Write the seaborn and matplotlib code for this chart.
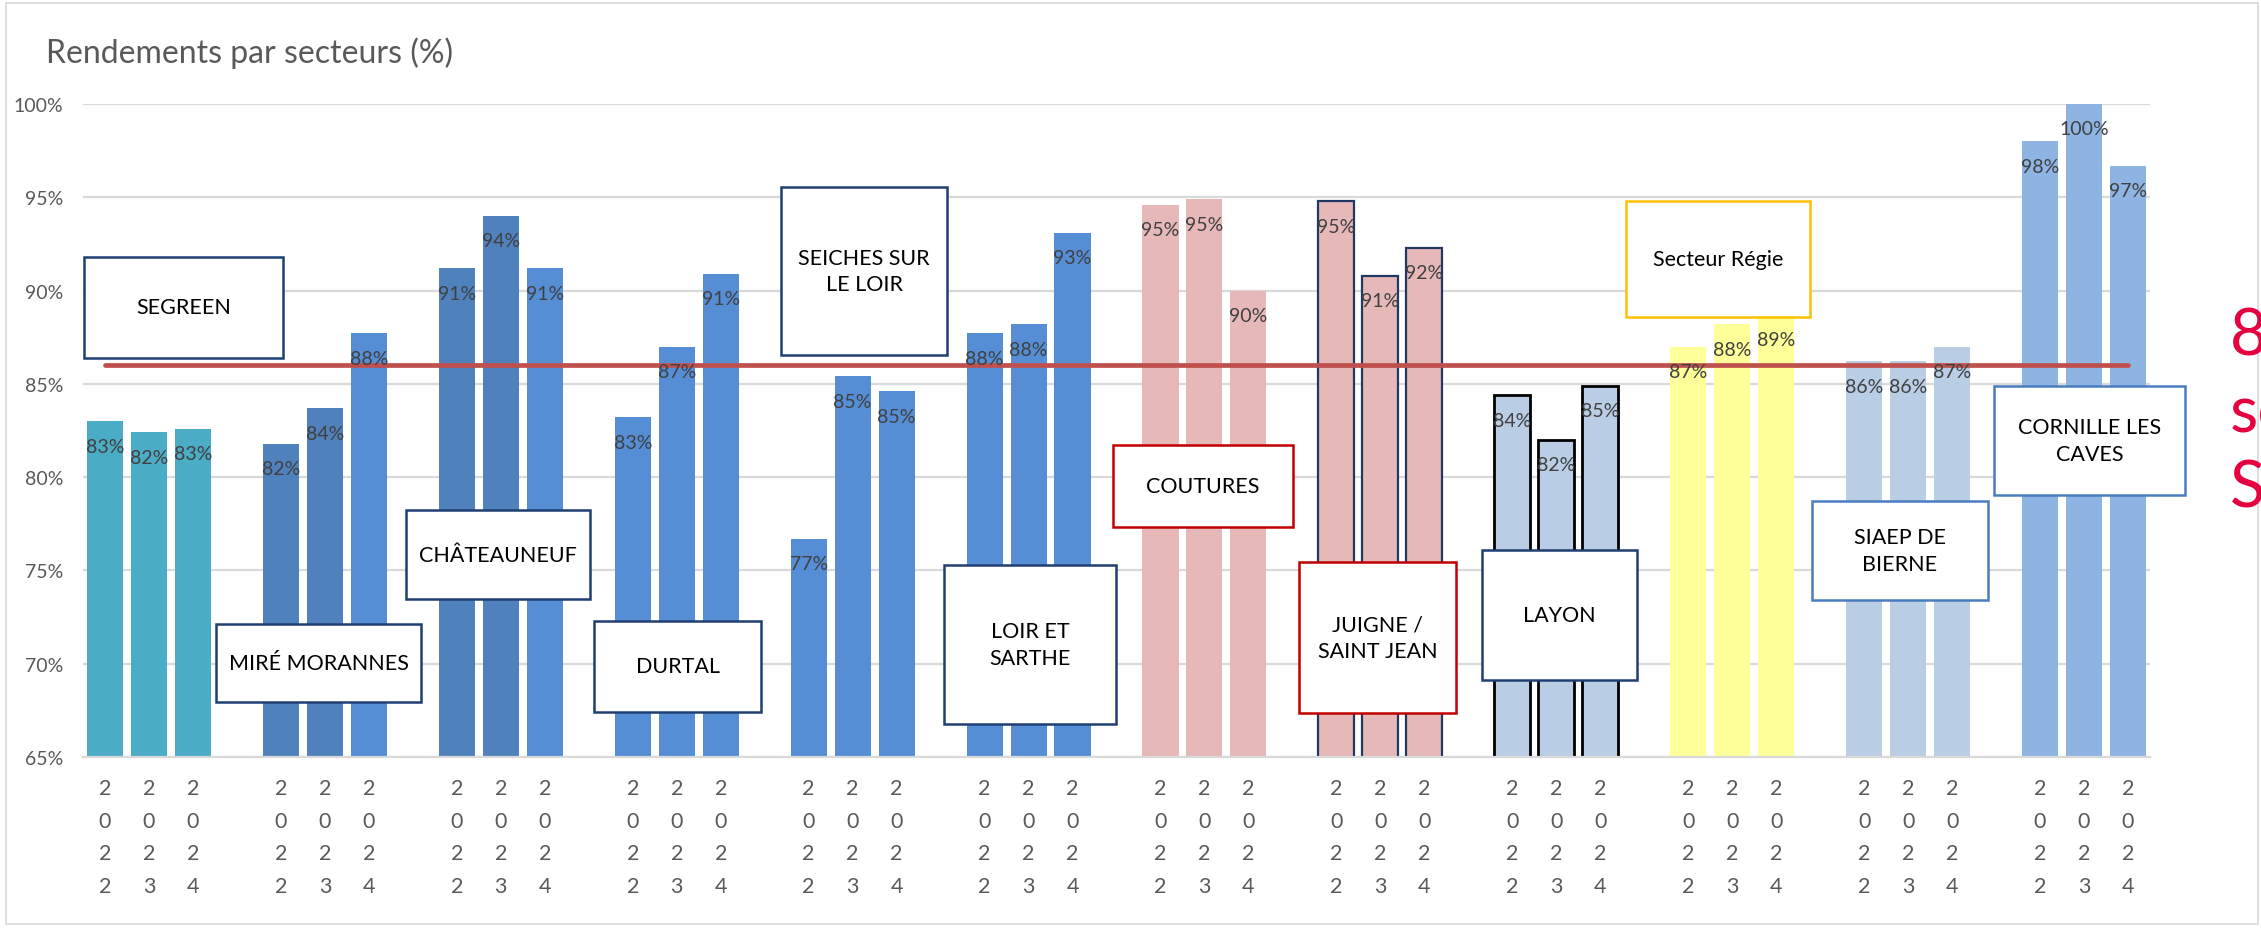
import matplotlib
matplotlib.use("Agg")
import matplotlib.pyplot as plt
from matplotlib.patches import Rectangle
import seaborn as sns
import pandas as pd
import numpy as np

# ---------------- data ----------------
sectors = ["SEGREEN", "MIRÉ MORANNES", "CHÂTEAUNEUF", "DURTAL",
           "SEICHES SUR\nLE LOIR", "LOIR ET\nSARTHE", "COUTURES",
           "JUIGNE /\nSAINT JEAN", "LAYON", "Secteur Régie",
           "SIAEP DE\nBIERNE", "CORNILLE LES\nCAVES"]
years = ["2022", "2023", "2024"]
segreen = [83.0, 82.4, 82.6]
mire = [81.8, 83.7, 87.7]
chateauneuf = [91.2, 94.0, 91.2]
durtal = [83.2, 87.0, 90.9]
seiches = [76.7, 85.4, 84.6]
loir_sarthe = [87.7, 88.2, 93.1]
coutures = [94.6, 94.9, 90.0]
juigne = [94.8, 90.8, 92.3]
layon = [84.4, 82.0, 84.9]
regie = [87.0, 88.2, 88.7]
siaep = [86.2, 86.2, 87.0]
cornille = [98.0, 100.0, 96.7]
threshold = 86.0
yticks = [65, 70, 75, 80, 85, 90, 95, 100]
title = "Rendements par secteurs (%)"
side_note = ["86%", "seuil", "SDAGE"]

series = [segreen, mire, chateauneuf, durtal, seiches, loir_sarthe,
          coutures, juigne, layon, regie, siaep, cornille]

# ---------------- styles ----------------
C_TEAL, C_DARK, C_BLUE = "#4BACC6", "#4F81BD", "#558ED5"
C_PINK, C_LIGHT, C_YEL, C_CORN = "#E6B9B8", "#B9CDE5", "#FFFF99", "#8EB4E3"
group_colors = [
    [C_TEAL] * 3,
    [C_DARK, C_DARK, C_BLUE],
    [C_DARK, C_DARK, C_BLUE],
    [C_BLUE] * 3,
    [C_BLUE] * 3,
    [C_BLUE] * 3,
    [C_PINK] * 3,
    [C_PINK] * 3,
    [C_LIGHT] * 3,
    [C_YEL] * 3,
    [C_LIGHT] * 3,
    [C_CORN] * 3,
]
group_edges = {7: ("#1F3864", 1.6), 8: ("#000000", 2.0)}

# boxes in figure pixels (x0, y0, x1, y1, edge colour)
NAVY, RED, GOLD, MBLUE = "#1F3F73", "#C00000", "#FFC000", "#4A7CC2"
boxes = [
    (84, 258, 283, 359, NAVY),
    (216, 625, 421, 703, NAVY),
    (406, 511, 590, 600, NAVY),
    (594, 622, 761, 713, NAVY),
    (781, 188, 947, 356, NAVY),
    (944, 566, 1116, 725, NAVY),
    (1113, 446, 1293, 528, RED),
    (1299, 563, 1456, 714, RED),
    (1482, 551, 1637, 681, NAVY),
    (1626, 202, 1810, 318, GOLD),
    (1812, 502, 1988, 601, MBLUE),
    (1994, 387, 2185, 496, MBLUE),
]

W, H = 2261, 929

rows = []
for g, vals in enumerate(series):
    for i, v in enumerate(vals):
        rows.append({"pos": 4 * g + i, "value": v, "bar": f"b{g}_{i}",
                     "year": years[i], "group": g})
df = pd.DataFrame(rows)
palette = {f"b{g}_{i}": group_colors[g][i] for g in range(len(series)) for i in range(3)}

sns.set_style("white")
plt.rcParams["font.family"] = ["Lato", "DejaVu Sans"]

fig = plt.figure(figsize=(W / 100, H / 100), dpi=100)
ax = fig.add_axes([83 / W, 1 - 758 / H, (2150 - 83) / W, (758 - 105) / H])

sns.barplot(data=df, x="pos", y="value", hue="bar", palette=palette,
            native_scale=True, dodge=False, width=0.82, legend=False,
            saturation=1, errorbar=None, ax=ax, linewidth=0)

# edges for outlined groups
for p in ax.patches:
    cx = p.get_x() + p.get_width() / 2
    pos = int(round(cx))
    g = pos // 4
    if g in group_edges:
        ec, lw = group_edges[g]
        p.set_edgecolor(ec)
        p.set_linewidth(lw)
    p.set_zorder(2)

ax.set_xlim(-0.5, 46.5)
ax.set_ylim(65, 100)
ax.set_yticks(yticks)
ax.set_yticklabels([f"{t}%" for t in yticks])
ax.set_xticks(df["pos"])
ax.set_xticklabels(["\n".join(y) for y in df["year"]], linespacing=1.8)
ax.set_xlabel("")
ax.set_ylabel("")
ax.tick_params(axis="y", length=0, pad=14, labelsize=14, labelcolor="#595959")
ax.tick_params(axis="x", length=0, pad=15, labelsize=15.5, labelcolor="#595959")
ax.yaxis.grid(True, color="#D9D9D9", lw=1.6)
ax.xaxis.grid(False)
ax.set_axisbelow(True)
for s in ["top", "right", "left"]:
    ax.spines[s].set_visible(False)
ax.spines["bottom"].set_color("#D9D9D9")
ax.spines["bottom"].set_linewidth(1.6)

# threshold line
ax.plot([df["pos"].min(), df["pos"].max()], [threshold, threshold],
        color="#C0504D", lw=3.4, zorder=3, solid_capstyle="round")

# data labels (inside end)
for _, r in df.iterrows():
    ax.annotate(f"{round(r['value'])}%", (r["pos"], r["value"]),
                xytext=(0, -18), textcoords="offset points",
                ha="center", va="center", fontsize=14, color="#404040", zorder=4)

# title
fig.text(46 / W, 1 - 53 / H, title, fontsize=23, color="#595959",
         ha="left", va="center")

# sector boxes
for (x0, y0, x1, y1, ec), name in zip(boxes, sectors):
    rect = Rectangle((x0 / W, 1 - y1 / H), (x1 - x0) / W, (y1 - y0) / H,
                     transform=fig.transFigure, facecolor="white",
                     edgecolor=ec, lw=1.8, zorder=5)
    fig.add_artist(rect)
    fig.text((x0 + x1) / 2 / W, 1 - (y0 + y1) / 2 / H, name, ha="center",
             va="center", multialignment="center", fontsize=15.5, color="black",
             linespacing=1.4, zorder=6)

# cut-off side note (clipped by the right edge, as in the original)
for txt, base in zip(side_note, [355, 432, 508]):
    fig.text(2230 / W, 1 - base / H, txt, fontsize=47, color="#E5003F",
             ha="left", va="baseline")

# outer chart frame
fig.add_artist(Rectangle((6 / W, 1 - 925 / H), 2252 / W, 921 / H,
                         transform=fig.transFigure, fill=False,
                         edgecolor="#D9D9D9", lw=1.2, zorder=0))

fig.savefig("out.png", dpi=100)
